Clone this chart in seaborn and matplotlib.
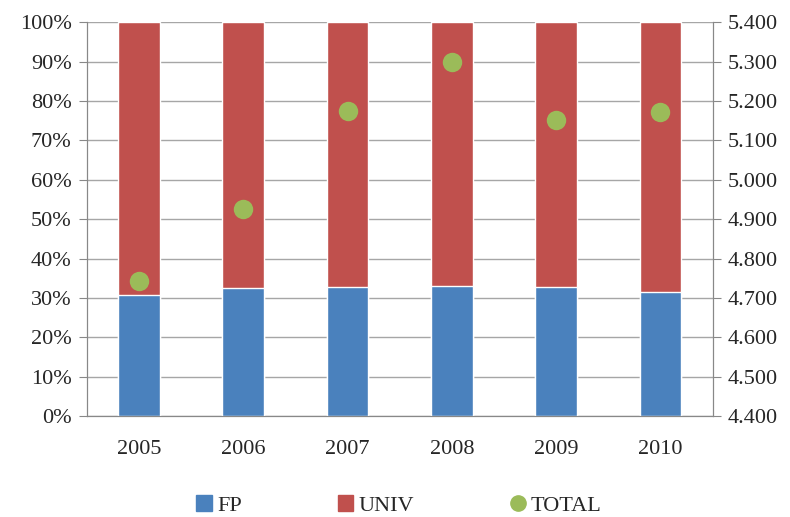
"""stacked share of FP / UNIV with TOTAL on a second axis"""

import seaborn as sns
import matplotlib.pyplot as plt
import matplotlib.ticker as mticker
import pandas as pd

years = ["2005", "2006", "2007", "2008", "2009", "2010"]
fp_share = [30.7, 32.6, 32.7, 33.1, 32.7, 31.6]
univ_share = [100 - v for v in fp_share]
total = [4742, 4925, 5174, 5298, 5151, 5172]

df = pd.DataFrame({"Year": years, "FP": fp_share, "UNIV": univ_share, "TOTAL": total})
df["stack"] = df["FP"] + df["UNIV"]

sns.set_style("white")
plt.rcParams["font.family"] = ["Liberation Serif", "DejaVu Serif"]

blue = "#4a81bd"
red = "#c0504d"
green = "#9bbb59"
grey = "#888888"
fs = 16

fig = plt.figure(figsize=(7.9, 5.17), dpi=100)
ax = fig.add_axes([0.110, 0.195, 0.792, 0.762])

sns.barplot(x="Year", y="stack", data=df, color=red, width=0.4, ax=ax,
            label="UNIV", saturation=1, zorder=2)
sns.barplot(x="Year", y="FP", data=df, color=blue, width=0.4, ax=ax,
            label="FP", saturation=1, zorder=3)

ax.set_ylim(0, 100)
ax.set_xlim(-0.5, 5.5)
ax.yaxis.set_major_locator(mticker.MultipleLocator(10))
ax.yaxis.set_major_formatter(mticker.FuncFormatter(lambda v, p: f"{v:.0f}%"))
ax.grid(axis="y", color="#a6a6a6", linewidth=1, zorder=0)
ax.set_axisbelow(True)
ax.set_xlabel("")
ax.set_ylabel("")

ax2 = ax.twinx()
sns.stripplot(x="Year", y="TOTAL", data=df, color=green, jitter=False, size=14,
              ax=ax2, label="TOTAL", zorder=5)
ax2.set_ylim(4400, 5400)
ax2.yaxis.set_major_locator(mticker.MultipleLocator(100))
ax2.yaxis.set_major_formatter(
    mticker.FuncFormatter(lambda v, p: f"{v / 1000:.3f}"))
ax2.set_ylabel("")
ax2.set_xlabel("")
ax2.set_xlim(-0.5, 5.5)

# category boundary ticks on the x axis
ax.set_xticks(range(6))
ax.set_xticklabels(years)
ax.xaxis.set_minor_locator(mticker.FixedLocator([i - 0.5 for i in range(7)]))
ax.tick_params(axis="x", which="major", length=0, labelsize=fs, pad=17)
ax.tick_params(axis="x", which="minor", length=6, color=grey, direction="out")
ax.tick_params(axis="y", length=6, color=grey, direction="out", labelsize=fs,
               left=True, pad=5)
ax2.tick_params(axis="y", length=6, color=grey, direction="out", labelsize=fs,
                right=True, pad=5)

for a in (ax, ax2):
    for side in ("left", "right", "bottom"):
        a.spines[side].set_color(grey)
    a.spines["top"].set_visible(False)

handles = [
    plt.Rectangle((0, 0), 1, 1, color=blue),
    plt.Rectangle((0, 0), 1, 1, color=red),
    plt.Line2D([], [], marker="o", color=green, linestyle="", markersize=11),
]
if ax.get_legend():
    ax.get_legend().remove()
if ax2.get_legend():
    ax2.get_legend().remove()
fig.legend(handles, ["FP", "UNIV", "TOTAL"], loc="lower center",
           bbox_to_anchor=(0.505, -0.036), ncol=3, frameon=False, fontsize=fs,
           columnspacing=4.3, handlelength=0.7, handleheight=0.7,
           handletextpad=0.25)

fig.savefig("out.png", dpi=100)
